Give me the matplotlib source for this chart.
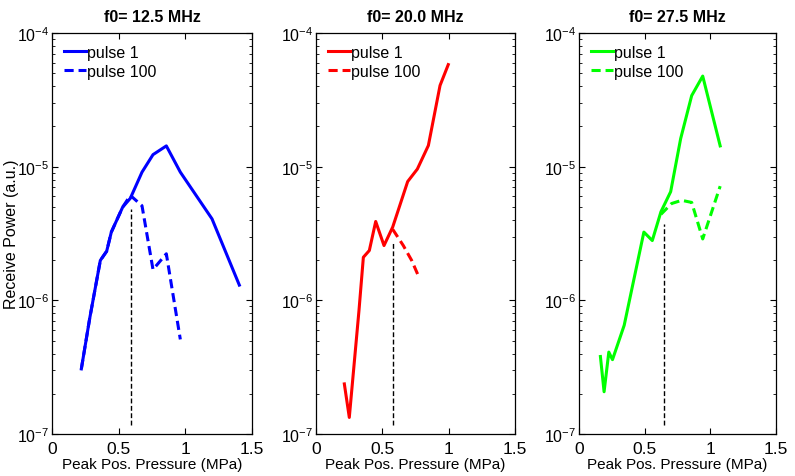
import matplotlib
matplotlib.use("Agg")
import matplotlib.pyplot as plt
from matplotlib.ticker import LogLocator, NullFormatter, FixedLocator

plt.rcParams['font.family'] = ['Liberation Sans', 'DejaVu Sans']
plt.rcParams['mathtext.fontset'] = 'custom'
plt.rcParams['mathtext.rm'] = 'Liberation Sans'
plt.rcParams['mathtext.it'] = 'Liberation Sans'

titles = ["f0= 12.5 MHz", "f0= 20.0 MHz", "f0= 27.5 MHz"]
colors = ["#0000ff", "#ff0000", "#00ff00"]

# Panel 1 (12.5 MHz)
p1_x1 = [0.22, 0.2825, 0.3625, 0.41, 0.445, 0.53, 0.5875, 0.675, 0.7575, 0.8575, 0.9625, 1.2, 1.405]
p1_y1 = [3.07e-7, 7.3e-7, 1.99e-6, 2.33e-6, 3.24e-6, 4.98e-6, 5.8e-6, 9.1e-6, 1.23e-5, 1.43e-5, 9.1e-6, 4.07e-6, 1.3e-6]
p1_x100 = [0.22, 0.2825, 0.3625, 0.41, 0.445, 0.53, 0.5875, 0.675, 0.7575, 0.8575, 0.9625]
p1_y100 = [3.07e-7, 7.3e-7, 1.99e-6, 2.33e-6, 3.24e-6, 4.98e-6, 6.1e-6, 5.1e-6, 1.7e-6, 2.23e-6, 5.1e-7]
p1_mark_x = 0.5925
p1_mark_y = [1.17e-7, 4.8e-6]

# Panel 2 (20.0 MHz)
p2_x1 = [0.2136, 0.251, 0.324, 0.357, 0.402, 0.45, 0.5126, 0.578, 0.691, 0.764, 0.847, 0.935, 0.997]
p2_y1 = [2.37e-7, 1.33e-7, 8.4e-7, 2.1e-6, 2.36e-6, 3.89e-6, 2.57e-6, 3.53e-6, 7.74e-6, 9.6e-6, 1.44e-5, 4.05e-5, 5.8e-5]
p2_x100 = [0.578, 0.658, 0.721, 0.771]
p2_y100 = [3.4e-6, 2.57e-6, 1.99e-6, 1.53e-6]
p2_mark_x = 0.578
p2_mark_y = [1.17e-7, 2.72e-6]

# Panel 3 (27.5 MHz)
p3_x1 = [0.163, 0.191, 0.227, 0.255, 0.344, 0.494, 0.558, 0.624, 0.698, 0.774, 0.858, 0.942, 1.075]
p3_y1 = [3.8e-7, 2.07e-7, 4.1e-7, 3.6e-7, 6.5e-7, 3.24e-6, 2.8e-6, 4.6e-6, 6.5e-6, 1.62e-5, 3.4e-5, 4.76e-5, 1.43e-5]
p3_x100 = [0.624, 0.705, 0.782, 0.858, 0.942, 1.075]
p3_y100 = [4.4e-6, 5.3e-6, 5.6e-6, 5.4e-6, 2.88e-6, 7.15e-6]
p3_mark_x = 0.649
p3_mark_y = [1.17e-7, 3.73e-6]

xticks = [0, 0.5, 1, 1.5]
xticklabels = ["0", "0.5", "1", "1.5"]
yticks = [1e-7, 1e-6, 1e-5, 1e-4]
yticklabels = [r"$10^{-7}$", r"$10^{-6}$", r"$10^{-5}$", r"$10^{-4}$"]

panels = [
    (p1_x1, p1_y1, p1_x100, p1_y100, p1_mark_x, p1_mark_y),
    (p2_x1, p2_y1, p2_x100, p2_y100, p2_mark_x, p2_mark_y),
    (p3_x1, p3_y1, p3_x100, p3_y100, p3_mark_x, p3_mark_y),
]

fig = plt.figure(figsize=(7.95, 4.77), dpi=100)
lefts = [52 / 795, 316 / 795, 579 / 795]
widths = [200 / 795, 199 / 795, 197 / 795]
bottom = 42 / 477
height = 401 / 477

for i, (x1, y1, x100, y100, mx, my) in enumerate(panels):
    ax = fig.add_axes([lefts[i], bottom, widths[i], height])
    ax.plot(x1, y1, '-', color=colors[i], lw=2.2, label="pulse 1")
    ax.plot(x100, y100, '--', color=colors[i], lw=2.2, dashes=(3, 1.6), label="pulse 100")
    ax.plot([mx, mx], my, '--', color='black', lw=1.0, dashes=(3.5, 1.8))
    ax.set_yscale('log')
    ax.set_xlim(0, 1.5)
    ax.set_ylim(1e-7, 1e-4)
    ax.xaxis.set_major_locator(FixedLocator(xticks))
    ax.set_xticklabels(xticklabels)
    ax.yaxis.set_major_locator(FixedLocator(yticks))
    ax.set_yticklabels(yticklabels)
    ax.yaxis.set_minor_locator(LogLocator(base=10, subs=range(2, 10)))
    ax.yaxis.set_minor_formatter(NullFormatter())
    ax.tick_params(which='both', direction='in', top=True, right=True)
    ax.tick_params(axis='x', labelsize=12.5, pad=5)
    ax.tick_params(axis='y', labelsize=11.5, pad=2)
    ax.tick_params(which='major', length=4, width=0.8)
    ax.tick_params(which='minor', length=2.5, width=0.6)
    for s in ax.spines.values():
        s.set_linewidth(0.9)
    ax.set_title(titles[i], fontsize=11.5, fontweight='bold', pad=9)
    ax.set_xlabel("Peak Pos. Pressure (MPa)", fontsize=11, labelpad=1)
    if i == 0:
        ax.set_ylabel("Receive Power (a.u.)", fontsize=11.5)
        ax.yaxis.set_label_coords(-0.165, 0.5)
    ax.legend(loc='upper left', frameon=False, fontsize=11.5,
              handlelength=1.35, handletextpad=0.1, borderaxespad=0.35,
              labelspacing=0.25, borderpad=0.4)

fig.savefig("out.png", dpi=100)
